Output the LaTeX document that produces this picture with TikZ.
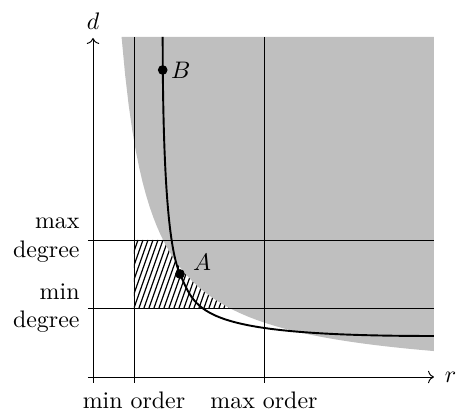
\documentclass[tikz,border=0pt]{standalone}
\usepackage{amsmath}
\usetikzlibrary{arrows.meta, positioning, calc}

\begin{document}
\begin{tikzpicture}[x=0.147cm, y=0.147cm]

    % Define variables/coordinates
    \def\Rmin{4.1}
    \def\Rmax{17.1}
    \def\Dmin{6.9}
    \def\Dmax{13.7}
    \def\Top{34}
    \def\Right{34.1}

    \useasboundingbox (-9.3,-3.8) rectangle (36.3,37.7);

    % Hatched region between the bounds
    \begin{scope}
        \clip (\Rmin,\Dmin) rectangle (15,\Dmax);
        \foreach \i in {0,...,30}
            \draw[line width=0.5pt] ({\Rmin-3+0.5*\i},\Dmin) -- ++(2.4,6.8);
    \end{scope}

    % Gray region
    \fill[gray!50] (2.86,\Top) -- plot[domain=2.86:\Right, samples=90] (\x, {98/\x-0.28}) -- (\Right,\Top) -- cycle;

    % Order and degree bounds
    \draw (\Rmin,-0.6) node[below] (minord) {min order} -- (\Rmin,\Top);
    \draw (\Rmax,-0.6) node[below] (maxord) {max order} -- (\Rmax,\Top);
    \draw (-0.5,\Dmax) node[left, align=right] (maxdeg) {max\\degree} -- (\Right,\Dmax);
    \draw (-0.5,\Dmin) node[left, align=right] (mindeg) {min\\degree} -- (\Right,\Dmin);

    % Draw axes
    \draw[->] (0,-0.6) -- (0,33.9) node[above] (dlabel) {$d$};
    \draw[->] (-0.5,0) -- (\Right,0) node[right, xshift=1pt] (rlabel) {$r$};

    % Curve through B and A
    \coordinate (B) at (6.97,30.7);
    \coordinate (A) at (8.7,10.3);
    \draw[thick] (6.97,\Top) .. controls (6.97,17) and (7.9,12.1) .. (A)
        .. controls (10.4,6.5) and (10.5,4.1) .. (\Right,4.1);

    \filldraw (B) circle (1.8pt) node[right] (Blabel) {$B$};
    \filldraw (A) circle (1.8pt) node[above right, xshift=2pt, yshift=-2pt] (Alabel) {$A$};

\end{tikzpicture}
\end{document}
